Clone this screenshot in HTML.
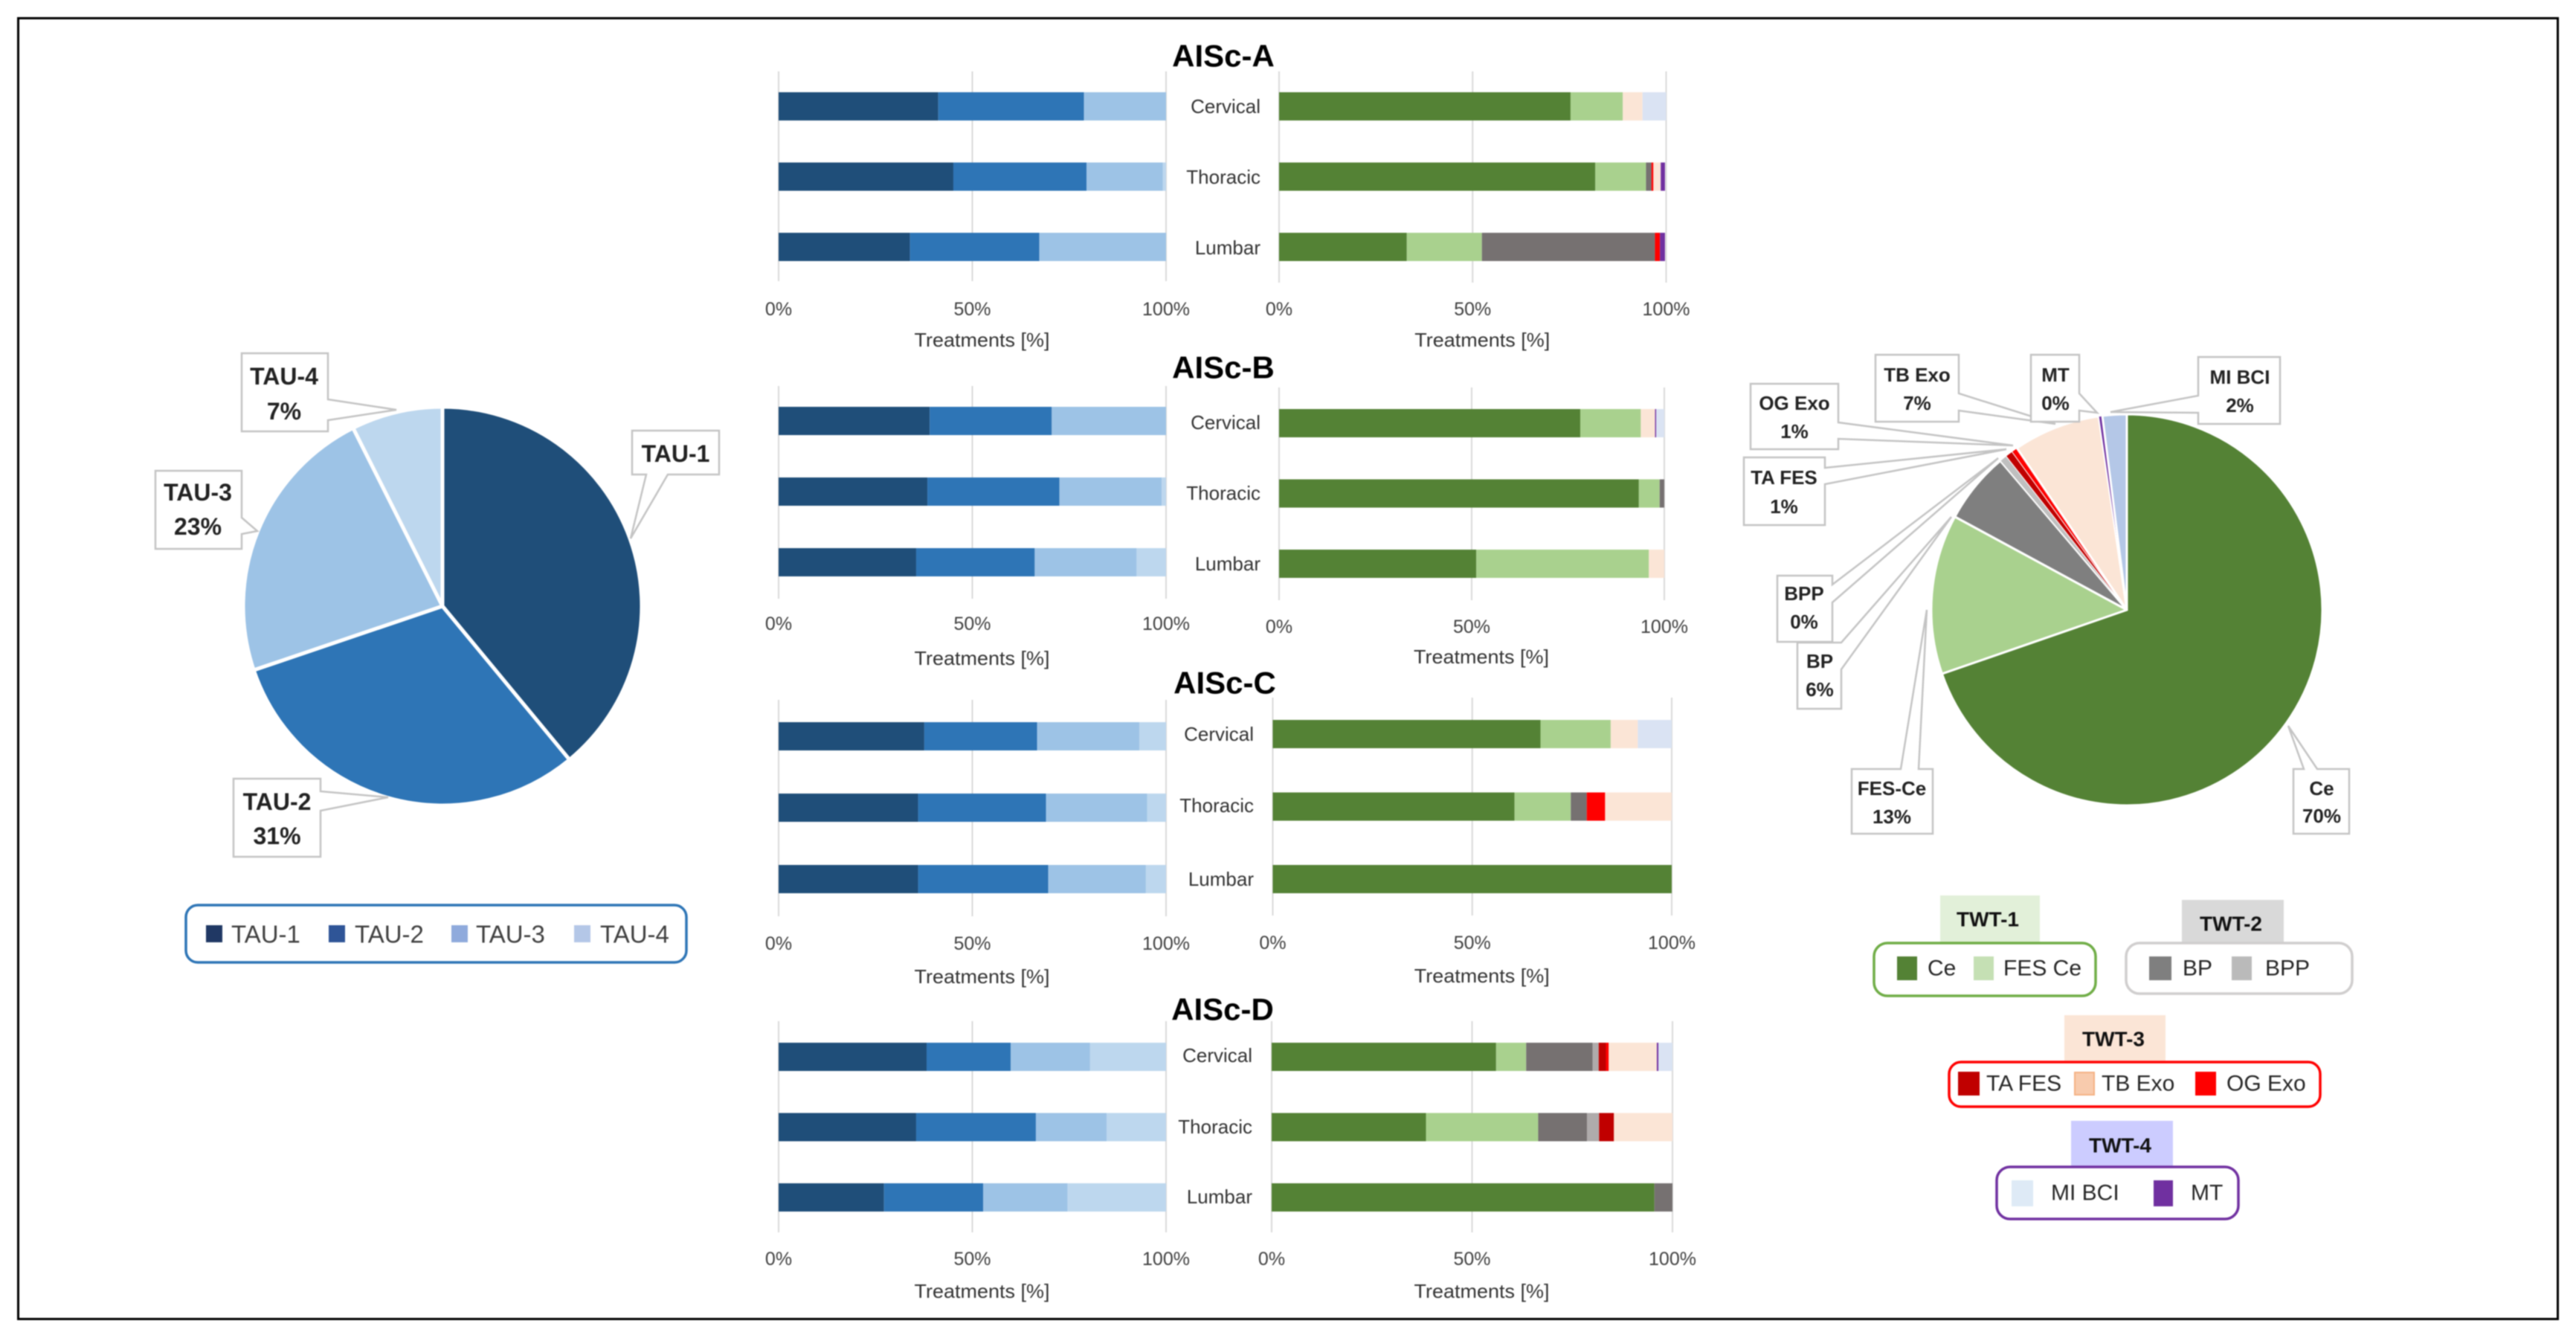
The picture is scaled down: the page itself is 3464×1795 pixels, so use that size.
<!DOCTYPE html>
<html lang="en">
<head>
<meta charset="utf-8">
<title>AISc treatment distribution</title>
<style>
html,body{margin:0;padding:0;background:#fff;width:3464px;height:1795px;overflow:hidden}
svg{display:block;filter:blur(0.7px)}
text{font-family:"Liberation Sans",sans-serif}
.call path{fill:#fff;stroke:#C4C4C4;stroke-width:2.5}
.call text{font-weight:bold;fill:#222;text-anchor:middle;dominant-baseline:central}
.c1 text{font-size:32px}
.c2 text{font-size:26px}
.lg rect.b{fill:#fff;stroke-width:3.5}
.lg text{font-size:30px;fill:#262626;dominant-baseline:central}
.hd text{font-size:28px;font-weight:bold;fill:#111;text-anchor:middle;dominant-baseline:central}
</style>
</head>
<body>
<svg id="figure" xmlns="http://www.w3.org/2000/svg" width="3464" height="1795" viewBox="0 0 3464 1795">
  <rect x="0" y="0" width="3464" height="1795" fill="#fff"/>
  <rect x="24.5" y="24.5" width="3415" height="1749" fill="none" stroke="#000" stroke-width="3"/>
  <g id="panels"></g>
  <g id="pie-tau"></g>
  <g id="pie-twt"></g>

  <g class="call c1">
    <g><path d="M850 579H967V638H898L848 724L869 638H850Z"/><text x="908.5" y="610">TAU-1</text></g>
    <g><path d="M314 1047H431V1064L522 1072L431 1090V1152H314Z"/><text x="372.5" y="1078">TAU-2</text><text x="372.5" y="1124">31%</text></g>
    <g><path d="M209 633H325V696L346 714L325 718V738H209Z"/><text x="266" y="662">TAU-3</text><text x="266" y="708">23%</text></g>
    <g><path d="M325 475H441V537L533 551L441 565V580H325Z"/><text x="382" y="506">TAU-4</text><text x="382" y="553">7%</text></g>
  </g>

  <g class="call c2">
    <g><path d="M3084 1034H3098L3077 976L3116 1034H3159V1121H3084Z"/><text x="3122" y="1060">Ce</text><text x="3122" y="1097">70%</text></g>
    <g><path d="M2490 1034H2556L2591 820L2580 1034H2599V1121H2490Z"/><text x="2544" y="1060">FES-Ce</text><text x="2544" y="1098">13%</text></g>
    <g><path d="M2417 864H2476L2624 695L2476 900V953H2417Z"/><text x="2447" y="889">BP</text><text x="2447" y="927">6%</text></g>
    <g><path d="M2390 774H2464V786L2687 616L2464 810V863H2390Z"/><text x="2426" y="798">BPP</text><text x="2426" y="836">0%</text></g>
    <g><path d="M2345 615H2454V629L2698 604L2454 651V706H2345Z"/><text x="2399" y="642">TA FES</text><text x="2399" y="681">1%</text></g>
    <g><path d="M2354 516H2472V568L2707 599L2472 590V604H2354Z"/><text x="2413" y="542">OG Exo</text><text x="2413" y="580">1%</text></g>
    <g><path d="M2522 477H2634V529L2764 570L2634 552V567H2522Z"/><text x="2578" y="504">TB Exo</text><text x="2578" y="542">7%</text></g>
    <g><path d="M2731 477H2796V529L2820 555L2796 552V567H2731Z"/><text x="2764" y="504">MT</text><text x="2764" y="542">0%</text></g>
    <g><path d="M2956 480H3066V570H2956V555L2838 554L2956 532Z"/><text x="3012" y="507">MI BCI</text><text x="3012" y="545">2%</text></g>
  </g>

  <g class="lg">
    <rect class="b" x="250" y="1217" width="673" height="77" rx="16" stroke="#2E75B6"/>
    <g><rect x="277" y="1244" width="22" height="23" fill="#203864"/><text x="311" y="1256" style="font-size:33px;fill:#404040">TAU-1</text></g>
    <g><rect x="442" y="1244" width="22" height="23" fill="#2F5597"/><text x="477" y="1256" style="font-size:33px;fill:#404040">TAU-2</text></g>
    <g><rect x="607" y="1244" width="22" height="23" fill="#8FAADC"/><text x="640" y="1256" style="font-size:33px;fill:#404040">TAU-3</text></g>
    <g><rect x="772" y="1244" width="22" height="23" fill="#B4C7E7"/><text x="807" y="1256" style="font-size:33px;fill:#404040">TAU-4</text></g>
  </g>

  <g class="hd">
    <g><rect x="2609" y="1204" width="134" height="63" fill="#E2F0D9"/><text x="2673" y="1236">TWT-1</text></g>
    <g><rect x="2934" y="1210" width="137" height="61" fill="#D9D9D9"/><text x="3000" y="1242">TWT-2</text></g>
    <g><rect x="2776" y="1365" width="136" height="61" fill="#FBE5D6"/><text x="2842" y="1397">TWT-3</text></g>
    <g><rect x="2785" y="1507" width="137" height="61" fill="#CCCCFF"/><text x="2851" y="1540">TWT-4</text></g>
  </g>

  <g class="lg">
    <rect class="b" x="2520" y="1268" width="298" height="71" rx="18" stroke="#70AD47"/>
    <g><rect x="2551" y="1286" width="27" height="32" fill="#548235"/><text x="2592" y="1302">Ce</text></g>
    <g><rect x="2654" y="1286" width="27" height="32" fill="#C5E0B4"/><text x="2694" y="1302">FES Ce</text></g>
  </g>
  <g class="lg">
    <rect class="b" x="2859" y="1268" width="304" height="68" rx="18" stroke="#D0CECE"/>
    <g><rect x="2890" y="1286" width="30" height="32" fill="#7F7F7F"/><text x="2935" y="1302">BP</text></g>
    <g><rect x="3001" y="1286" width="27" height="32" fill="#BABABA"/><text x="3046" y="1302">BPP</text></g>
  </g>
  <g class="lg">
    <rect class="b" x="2621" y="1428" width="499" height="60" rx="16" stroke="#FF0000"/>
    <g><rect x="2633" y="1441" width="29" height="32" fill="#C00000"/><text x="2671" y="1457">TA FES</text></g>
    <g><rect x="2790" y="1442" width="26" height="30" fill="#F8CBAD" stroke="#F4B183" stroke-width="2"/><text x="2826" y="1457">TB Exo</text></g>
    <g><rect x="2952" y="1441" width="28" height="32" fill="#FF0000"/><text x="2994" y="1457">OG Exo</text></g>
  </g>
  <g class="lg">
    <rect class="b" x="2685" y="1569" width="325" height="70" rx="18" stroke="#7030A0"/>
    <g><rect x="2705" y="1587" width="29" height="35" fill="#DEEAF6"/><text x="2758" y="1604">MI BCI</text></g>
    <g><rect x="2896" y="1587" width="26" height="35" fill="#7030A0"/><text x="2946" y="1604">MT</text></g>
  </g>
</svg>

<script>
// ---- chart data ----
const categories = ['Cervical', 'Thoracic', 'Lumbar'];
const xTickValues = [0, 50, 100];
const xAxisTitle = 'Treatments [%]';

const tauSeries = ['TAU-1', 'TAU-2', 'TAU-3', 'TAU-4'];
const twtSeries = ['Ce', 'FES-Ce', 'BP', 'BPP', 'TA FES', 'OG Exo', 'TB Exo', 'MT', 'MI BCI'];

const tauColors = ['#1F4E79', '#2E75B6', '#9DC3E6', '#BDD7EE'];
const twtColors = ['#548235', '#A9D18E', '#767171', '#AFABAB', '#C00000', '#FF0000', '#FBE5D6', '#7030A0', '#DAE3F3'];
const twtPieColors = ['#548235', '#A9D18E', '#7F7F7F', '#BFBFBF', '#C00000', '#FF0000', '#FBE5D6', '#7030A0', '#B4C7E7'];

const tauPieValues = [39, 30.8, 22.8, 7.4];
const twtPieValues = [69.7, 13.2, 5.9, 0.6, 0.6, 0.5, 7.2, 0.3, 2.0];

const tauPanelA = [[41.2, 37.6, 21.2, 0], [45.1, 34.4, 19.7, 0.8], [33.9, 33.4, 32.7, 0]];
const twtPanelA = [
  [75.3, 13.5, 0, 0, 0, 0, 5.1, 0, 6.1],
  [81.7, 13.1, 1.4, 0, 0, 0.5, 1.9, 1.1, 0],
  [33, 19.4, 44.7, 0, 0, 1.3, 0, 1.3, 0]
];
const tauPanelB = [[39, 31.5, 29.5, 0], [38.4, 34.1, 26.4, 1.1], [35.5, 30.6, 26.3, 7.6]];
const twtPanelB = [
  [78.2, 15.7, 0, 0, 0, 0, 3.7, 0.3, 2.1],
  [93.4, 5.4, 1.2, 0, 0, 0, 0, 0, 0],
  [51.2, 44.8, 0, 0, 0, 0, 4, 0, 0]
];
const tauPanelC = [[37.6, 29.1, 26.4, 6.9], [36, 33, 26.1, 4.9], [36, 33.6, 25.2, 5.2]];
const twtPanelC = [
  [67.1, 17.6, 0, 0, 0, 0, 6.8, 0, 8.5],
  [60.6, 14.1, 4, 0, 0, 4.6, 16.7, 0, 0],
  [100, 0, 0, 0, 0, 0, 0, 0, 0]
];
const tauPanelD = [[38.2, 21.7, 20.5, 19.6], [35.5, 30.9, 18.3, 15.3], [27.2, 25.6, 21.8, 25.4]];
const twtPanelD = [
  [56, 7.5, 16.6, 1.5, 1.8, 0.7, 12, 0.4, 3.5],
  [38.5, 28, 12.2, 3, 3.7, 0, 14.6, 0, 0],
  [95.5, 0, 4.5, 0, 0, 0, 0, 0, 0]
];

// ---- drawing ----
const SVG_NS = 'http://www.w3.org/2000/svg';

function svgEl(tag, attrs, parent) {
  const el = document.createElementNS(SVG_NS, tag);
  for (const key in attrs) {
    el.setAttribute(key, attrs[key]);
  }
  parent.appendChild(el);
  return el;
}

function drawStack(parent, seriesNames, colors, rows, frame) {
  const xScale = v => frame.x0 + (v / 100) * (frame.x100 - frame.x0);
  const yBand = i => frame.barTop + i * frame.barStep;

  xTickValues.forEach(t => {
    const grid = svgEl('line', { x1: xScale(t), x2: xScale(t), y1: frame.gridTop, y2: frame.gridBottom, stroke: '#D9D9D9', 'stroke-width': 2 }, parent);
    
    
    const tick = svgEl('text', { x: xScale(t), y: frame.tickY, 'text-anchor': 'middle', 'dominant-baseline': 'central', 'font-size': 25, fill: '#404040' }, parent);
    
    
    tick.textContent = t + '%';
  });

  rows.forEach((row, i) => {
    let cumulative = 0;
    row.forEach((value, s) => {
      if (value > 0) {
        const bar = svgEl('rect', {
          x: xScale(cumulative),
          y: yBand(i),
          width: xScale(cumulative + value) - xScale(cumulative),
          height: 38,
          fill: colors[s]
        }, parent);
        
        
      }
      cumulative += value;
    });
  });

  const axisTitle = svgEl('text', { x: (frame.x0 + frame.x100) / 2 + 13, y: frame.titleY, 'text-anchor': 'middle', 'dominant-baseline': 'central', 'font-size': 26, fill: '#333', textLength: 182, lengthAdjust: 'spacingAndGlyphs' }, parent);
  
  
  axisTitle.textContent = xAxisTitle;
}

function drawPanel(title, tauRows, twtRows, layout) {
  const root = document.getElementById('panels');
  const group = svgEl('g', {}, root);
  
  

  const heading = svgEl('text', { x: layout.titleX, y: layout.titleY, 'text-anchor': 'middle', 'dominant-baseline': 'central', 'font-size': 42, 'font-weight': 'bold', fill: '#000' }, group);
  
  
  heading.textContent = title;

  drawStack(group, tauSeries, tauColors, tauRows, layout.left);
  drawStack(group, twtSeries, twtColors, twtRows, layout.right);

  categories.forEach((cat, i) => {
    const label = svgEl('text', { x: layout.catRight, y: layout.catY[i], 'text-anchor': 'end', 'dominant-baseline': 'central', 'font-size': 26, fill: '#333' }, group);
    
    
    label.textContent = cat;
  });
}

function drawPie(targetId, values, colors, seriesNames, cx, cy, r, gap) {
  const parent = document.getElementById(targetId);
  const total = values.reduce((a, b) => a + b, 0);
  const angleScale = v => (v / total) * 2 * Math.PI;
  const point = a => [cx + r * Math.sin(a), cy - r * Math.cos(a)];
  let start = 0;
  values.forEach((value, i) => {
    const end = start + angleScale(value);
    const p0 = point(start);
    const p1 = point(end);
    const large = end - start > Math.PI ? 1 : 0;
    const slice = svgEl('path', {
      d: 'M' + cx + ' ' + cy + 'L' + p0[0] + ' ' + p0[1] + 'A' + r + ' ' + r + ' 0 ' + large + ' 1 ' + p1[0] + ' ' + p1[1] + 'Z',
      fill: colors[i],
      stroke: '#fff',
      'stroke-width': value < 1 ? 1 : gap,
      'stroke-linejoin': 'round'
    }, parent);
    
    
    start = end;
  });
}

drawPanel('AISc-A', tauPanelA, twtPanelA, {
  titleX: 1645, titleY: 75, catRight: 1695, catY: [143, 238, 333],
  left: { x0: 1047, x100: 1568, gridTop: 96, gridBottom: 378, barTop: 124, barStep: 94.5, tickY: 416, titleY: 457 },
  right: { x0: 1720, x100: 2240.5, gridTop: 96, gridBottom: 380, barTop: 124, barStep: 94.5, tickY: 416, titleY: 457 }
});
drawPanel('AISc-B', tauPanelB, twtPanelB, {
  titleX: 1645, titleY: 494, catRight: 1695, catY: [568, 663, 758],
  left: { x0: 1047, x100: 1568, gridTop: 519, gridBottom: 805, barTop: 547, barStep: 95, tickY: 839, titleY: 885 },
  right: { x0: 1720, x100: 2238, gridTop: 521, gridBottom: 807, barTop: 550, barStep: 94.5, tickY: 843, titleY: 883 }
});
drawPanel('AISc-C', tauPanelC, twtPanelC, {
  titleX: 1647, titleY: 918, catRight: 1686, catY: [987, 1083, 1182],
  left: { x0: 1047, x100: 1568, gridTop: 941, gridBottom: 1232, barTop: 971, barStep: 96, tickY: 1269, titleY: 1313 },
  right: { x0: 1711.5, x100: 2248, gridTop: 938, gridBottom: 1231, barTop: 968, barStep: 97.5, tickY: 1268, titleY: 1312 }
});
drawPanel('AISc-D', tauPanelD, twtPanelD, {
  titleX: 1644, titleY: 1357, catRight: 1684, catY: [1419, 1515, 1609],
  left: { x0: 1047, x100: 1568, gridTop: 1373, gridBottom: 1657, barTop: 1402, barStep: 94.5, tickY: 1693, titleY: 1736 },
  right: { x0: 1710, x100: 2249, gridTop: 1373, gridBottom: 1657, barTop: 1402, barStep: 94.5, tickY: 1693, titleY: 1736 }
});

drawPie('pie-tau', tauPieValues, tauColors, tauSeries, 595, 815, 268, 5);
drawPie('pie-twt', twtPieValues, twtPieColors, twtSeries, 2860, 820, 263, 3);
</script>
</body>
</html>
